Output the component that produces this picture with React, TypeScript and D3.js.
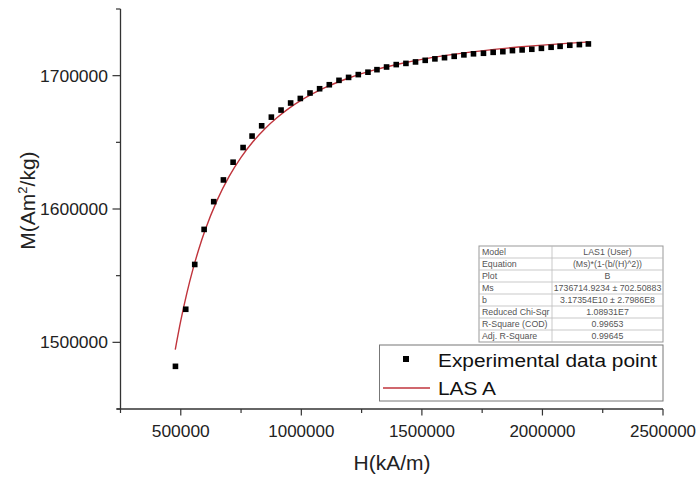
import React from "react";
import * as d3 from "d3";

// Experimental data: H (kA/m) and M (Am^2/kg)
const hData = [
  477900, 520600, 557900, 596800, 636600, 676800, 717000, 758400, 795700, 835500,
  875700, 915900, 955600, 995800, 1036000, 1075800, 1116000, 1156200, 1196000, 1236200,
  1276400, 1313700, 1353500, 1393600, 1433800, 1473600, 1513800, 1554000, 1593800, 1634000,
  1674200, 1714000, 1755400, 1795600, 1835800, 1875600, 1915700, 1955900, 1995700, 2035900,
  2073200, 2113400, 2153200, 2190500,
];
const mData = [
  1482000, 1524800, 1558400, 1584700, 1605500, 1621800, 1635100, 1646100, 1654700, 1662400,
  1668900, 1674200, 1679500, 1682900, 1687000, 1690200, 1693200, 1696500, 1698700, 1700800,
  1702600, 1704500, 1706500, 1708300, 1709200, 1710300, 1711500, 1712600, 1713500, 1714500,
  1715600, 1716400, 1716800, 1717500, 1718000, 1718800, 1719300, 1719800, 1720500, 1721300,
  1722000, 1722800, 1723300, 1723800,
];

// Fitted LAS curve (values read/tabulated)
const hFit = [
  477000, 500000, 525000, 550000, 575000, 600000, 650000, 700000, 750000, 800000,
  850000, 900000, 950000, 1000000, 1100000, 1200000, 1300000, 1400000, 1500000, 1600000,
  1700000, 1800000, 1900000, 2000000, 2100000, 2190000,
];
const mFit = [
  1494479, 1516253, 1536749, 1554516, 1570015, 1583617, 1606265, 1624234, 1638733, 1650597,
  1660431, 1668671, 1675645, 1681600, 1691165, 1698441, 1704103, 1708595, 1712219, 1715185,
  1717644, 1719704, 1721447, 1722936, 1724217, 1725223,
];

const xMajorTicks = [500000, 1000000, 1500000, 2000000, 2500000];
const xMinorTicks = [250000, 750000, 1250000, 1750000, 2250000];
const yMajorTicks = [1500000, 1600000, 1700000];
const yMinorTicks = [1450000, 1550000, 1650000, 1750000];

const tableLabels = [
  "Model", "Equation", "Plot", "Ms", "b", "Reduced Chi-Sqr", "R-Square (COD)", "Adj. R-Square",
];
const tableValues = [
  "LAS1 (User)", "(Ms)*(1-(b/(H)^2))", "B", "1736714.9234 ± 702.50883",
  "3.17354E10 ± 2.7986E8", "1.08931E7", "0.99653", "0.99645",
];

const legendLabels = ["Experimental data point", "LAS A"];

export default function App() {
  const W = 698, H = 477;
  const x = d3.scaleLinear().domain([250000, 2500000]).range([120.5, 663]);
  const y = d3.scaleLinear().domain([1450000, 1750000]).range([409, 9]);
  const font = "'Liberation Sans', Arial, sans-serif";
  const axisColor = "#333";
  const fitPts: [number, number][] = hFit.map((h, i) => [h, mFit[i]]);
  const line = d3
    .line<[number, number]>()
    .x((d) => x(d[0]))
    .y((d) => y(d[1]))
    .curve(d3.curveMonotoneX);

  const tX = 479, tY = 246, rowH = 12, colSplit = 552, tR = 663;

  return (
    <svg width={W} height={H} style={{ position: "absolute", left: 0, top: 0, background: "#fff" }} fontFamily={font}>
      <rect x={0} y={0} width={W} height={H} fill="#fff" />
      {/* Axes */}
      <line x1={120.5} x2={120.5} y1={9} y2={409} stroke={axisColor} strokeWidth={1.3} />
      <line x1={117} x2={663} y1={409} y2={409} stroke={axisColor} strokeWidth={1.3} />
      {yMajorTicks.map((t) => (
        <g key={"ym" + t}>
          <line x1={112.5} x2={120.5} y1={y(t)} y2={y(t)} stroke={axisColor} strokeWidth={1.2} />
          <text x={108} y={y(t)} dy="0.36em" textAnchor="end" fontSize={17} fill="#222" textLength={68} lengthAdjust="spacingAndGlyphs">
            {t}
          </text>
        </g>
      ))}
      {yMinorTicks.map((t) => (
        <line key={"yn" + t} x1={116} x2={120.5} y1={y(t)} y2={y(t)} stroke={axisColor} strokeWidth={1.2} />
      ))}
      {xMajorTicks.map((t) => (
        <g key={"xm" + t}>
          <line x1={x(t)} x2={x(t)} y1={409} y2={415.5} stroke={axisColor} strokeWidth={1.2} />
          <text x={x(t)} y={437} textAnchor="middle" fontSize={17} fill="#222" textLength={t >= 1000000 ? 66 : 58} lengthAdjust="spacingAndGlyphs">
            {t}
          </text>
        </g>
      ))}
      {xMinorTicks.map((t) => (
        <line key={"xn" + t} x1={x(t)} x2={x(t)} y1={409} y2={413} stroke={axisColor} strokeWidth={1.2} />
      ))}
      {/* Axis titles */}
      <text x={392} y={470} textAnchor="middle" fontSize={20} fill="#222" textLength={77} lengthAdjust="spacingAndGlyphs">
        H(kA/m)
      </text>
      <text transform="translate(35,200.5) rotate(-90)" textAnchor="middle" fontSize={21} fill="#222">
        M(Am<tspan fontSize={13} dy={-8}>2</tspan><tspan dy={8}>/kg)</tspan>
      </text>

      {/* Fit curve */}
      <path d={line(fitPts) || ""} fill="none" stroke="#c0343c" strokeWidth={1.4} />
      {/* Data points */}
      {hData.map((h, i) => (
        <rect key={"p" + i} x={x(h) - 2.8} y={y(mData[i]) - 2.8} width={5.6} height={5.6} fill="#000" />
      ))}

      {/* Fit table */}
      <g fontSize={8.8} fill="#555">
        <rect x={tX} y={tY} width={tR - tX} height={rowH * 8} fill="#fff" stroke="#999" strokeWidth={1} />
        {tableLabels.map((lab, i) => (
          <g key={"tr" + i}>
            {i > 0 && <line x1={tX} x2={tR} y1={tY + i * rowH} y2={tY + i * rowH} stroke="#bbb" strokeWidth={0.8} />}
            <text x={tX + 3} y={tY + i * rowH + 9.3}>{lab}</text>
            <text x={(colSplit + tR) / 2} y={tY + i * rowH + 9.3} textAnchor="middle">{tableValues[i]}</text>
          </g>
        ))}
        <line x1={colSplit} x2={colSplit} y1={tY} y2={tY + rowH * 8} stroke="#bbb" strokeWidth={0.8} />
      </g>

      {/* Legend */}
      <rect x={379.5} y={345} width={283.5} height={56} fill="#fff" stroke="#777" strokeWidth={1} />
      <rect x={403} y={356} width={6} height={6} fill="#000" />
      <text x={438} y={367} fontSize={17.5} fill="#111" textLength={219} lengthAdjust="spacingAndGlyphs">
        {legendLabels[0]}
      </text>
      <line x1={383} x2={430} y1={388} y2={388} stroke="#c0343c" strokeWidth={1.4} />
      <text x={438} y={394.5} fontSize={17.5} fill="#111" textLength={58} lengthAdjust="spacingAndGlyphs">
        {legendLabels[1]}
      </text>
    </svg>
  );
}
